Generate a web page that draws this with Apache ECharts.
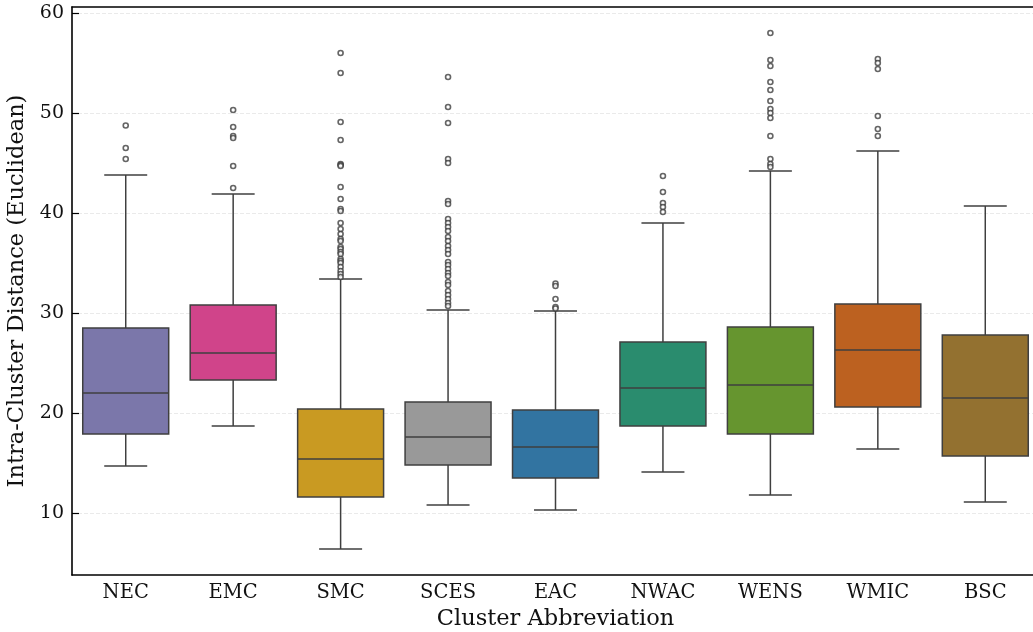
<!DOCTYPE html>
<html>
<head>
<meta charset="utf-8">
<script src="https://cdn.jsdelivr.net/npm/echarts@6/dist/echarts.min.js"></script>
<style>
  html, body { margin: 0; padding: 0; background: #fff; }
  #chart { width: 1033px; height: 632px; }
</style>
</head>
<body>
<div id="chart"></div>
<script>
// Cluster abbreviations along the x axis
const categories = ['NEC', 'EMC', 'SMC', 'SCES', 'EAC', 'NWAC', 'WENS', 'WMIC', 'BSC'];

// Box statistics per cluster
const whiskerLow  = [14.7, 18.7,  6.4, 10.8, 10.3, 14.1, 11.8, 16.4, 11.1];
const q1          = [17.9, 23.3, 11.6, 14.8, 13.5, 18.7, 17.9, 20.6, 15.7];
const median      = [22.0, 26.0, 15.4, 17.6, 16.6, 22.5, 22.8, 26.3, 21.5];
const q3          = [28.5, 30.8, 20.4, 21.1, 20.3, 27.1, 28.6, 30.9, 27.8];
const whiskerHigh = [43.8, 41.9, 33.4, 30.3, 30.2, 39.0, 44.2, 46.2, 40.7];

// Outliers beyond the whiskers
const outliersNEC  = [48.75, 46.5, 45.4];
const outliersEMC  = [50.3, 48.6, 47.7, 47.5, 44.7, 42.5];
const outliersSMC  = [56.0, 54.0, 49.1, 47.3, 44.9, 44.8, 44.7, 42.6, 41.4, 40.4, 40.2, 39.0, 38.4, 37.9,
                      37.4, 37.2, 36.6, 36.4, 36.1, 35.9, 35.4, 35.2, 35.0, 34.6, 34.2, 33.9, 33.6];
const outliersSCES = [53.6, 50.6, 49.0, 45.4, 45.0, 41.2, 40.9, 39.4, 39.0, 38.6, 38.2, 37.6, 37.2, 36.7,
                      36.3, 35.9, 35.1, 34.8, 34.4, 34.0, 33.7, 33.1, 32.8, 32.2, 31.8, 31.4, 31.0, 30.7];
const outliersEAC  = [32.95, 32.7, 31.4, 30.6, 30.45];
const outliersNWAC = [43.7, 42.1, 41.0, 40.6, 40.1];
const outliersWENS = [58.0, 55.3, 54.7, 53.1, 52.3, 51.2, 50.4, 50.0, 49.5, 47.7, 45.4, 44.9, 44.6];
const outliersWMIC = [55.4, 55.0, 54.4, 49.7, 48.4, 47.7];
const outliersBSC  = [];

// Y axis tick values
const yTicks = [10, 20, 30, 40, 50, 60];

const boxColors = ['#7b77aa', '#d0448a', '#c99a22', '#999999', '#3274a1',
                   '#2a8c6e', '#66952f', '#bc6120', '#937130'];
const edgeColor = '#3f3f3f';
const fontFamily = "'DejaVu Serif', serif";

const outlierLists = [outliersNEC, outliersEMC, outliersSMC, outliersSCES, outliersEAC,
                      outliersNWAC, outliersWENS, outliersWMIC, outliersBSC];

const boxData = categories.map((c, i) => [i, whiskerLow[i], q1[i], median[i], q3[i], whiskerHigh[i]]);
const outlierData = [];
outlierLists.forEach((list, i) => list.forEach(v => outlierData.push([i, v])));

function renderBox(params, api) {
  const i = api.value(0);
  const band = api.size([1, 0])[0];
  const bw = band * 0.8;
  const cw = bw * 0.5;
  const x = api.coord([i, 0])[0];
  const yLo = api.coord([i, api.value(1)])[1];
  const yQ1 = api.coord([i, api.value(2)])[1];
  const yMed = api.coord([i, api.value(3)])[1];
  const yQ3 = api.coord([i, api.value(4)])[1];
  const yHi = api.coord([i, api.value(5)])[1];
  const line = { stroke: edgeColor, lineWidth: 1.5 };
  return {
    type: 'group',
    children: [
      { type: 'line', shape: { x1: x, y1: yLo, x2: x, y2: yQ1 }, style: line },
      { type: 'line', shape: { x1: x, y1: yQ3, x2: x, y2: yHi }, style: line },
      { type: 'line', shape: { x1: x - cw / 2, y1: yLo, x2: x + cw / 2, y2: yLo }, style: line },
      { type: 'line', shape: { x1: x - cw / 2, y1: yHi, x2: x + cw / 2, y2: yHi }, style: line },
      { type: 'rect', shape: { x: x - bw / 2, y: yQ3, width: bw, height: yQ1 - yQ3 },
        style: { fill: boxColors[i], stroke: edgeColor, lineWidth: 1.5 } },
      { type: 'line', shape: { x1: x - bw / 2, y1: yMed, x2: x + bw / 2, y2: yMed }, style: line }
    ]
  };
}

const chart = echarts.init(document.getElementById('chart'));
chart.setOption({
  animation: false,
  backgroundColor: '#ffffff',
  grid: { left: 72, right: -6, top: 7, bottom: 57, containLabel: false, outerBoundsMode: 'none' },
  xAxis: [{
    type: 'category',
    data: categories,
    position: 'bottom',
    boundaryGap: true,
    axisLine: { lineStyle: { color: '#000', width: 1.6 } },
    axisTick: { alignWithLabel: true, inside: true, length: 7, lineStyle: { color: '#000', width: 1.2 } },
    axisLabel: { color: '#111', fontFamily, fontSize: 19.5, margin: 8 },
    name: 'Cluster Abbreviation',
    nameLocation: 'middle',
    nameGap: 32,
    nameTextStyle: { color: '#111', fontFamily, fontSize: 22.5 },
    splitLine: { show: false }
  }, {
    type: 'category',
    data: categories,
    position: 'top',
    axisLine: { lineStyle: { color: '#000', width: 1.6 } },
    axisTick: { show: false },
    axisLabel: { show: false },
    splitLine: { show: false }
  }],
  yAxis: {
    type: 'value',
    min: 3.8,
    max: 60.6,
    axisLine: { show: true, lineStyle: { color: '#000', width: 1.6 } },
    axisTick: { show: true, inside: true, length: 7, customValues: yTicks, lineStyle: { color: '#000', width: 1.2 } },
    axisLabel: { color: '#111', fontFamily, fontSize: 19, margin: 8, customValues: yTicks },
    splitLine: { show: true, lineStyle: { color: '#e4e4e4', width: 0.8, type: [4, 2] } },
    name: 'Intra-Cluster Distance (Euclidean)',
    nameLocation: 'middle',
    nameGap: 41,
    nameTextStyle: { color: '#111', fontFamily, fontSize: 22.5 }
  },
  series: [{
    type: 'custom',
    renderItem: renderBox,
    encode: { x: 0, y: [1, 2, 3, 4, 5] },
    data: boxData,
    z: 2
  }, {
    type: 'scatter',
    data: outlierData,
    symbol: 'circle',
    symbolSize: 5,
    itemStyle: { color: '#ffffff', borderColor: edgeColor, borderWidth: 1.6 },
    z: 3
  }]
});
</script>
</body>
</html>
